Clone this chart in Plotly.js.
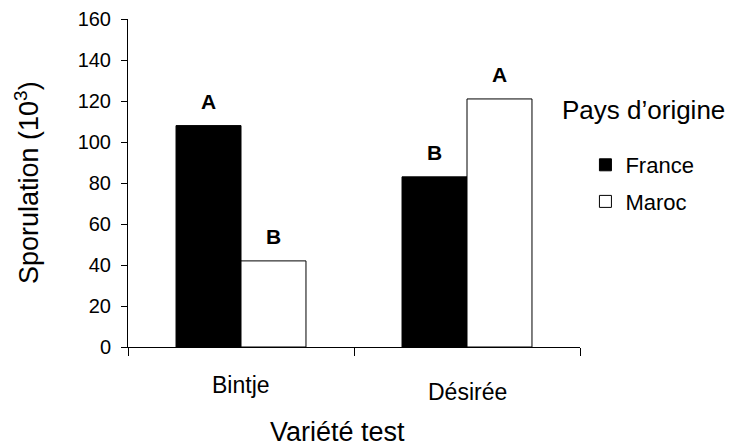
<!DOCTYPE html>
<html>
<head>
<meta charset="utf-8">
<script src="https://cdn.plot.ly/plotly-3.0.1.min.js"></script>
<style>
  html, body { margin: 0; padding: 0; background: #fff; }
  #chart { width: 744px; height: 447px; }
</style>
</head>
<body>
<div id="chart"></div>
<script>
// Sporulation by test variety and country of origin
const varieties = ["Bintje", "Désirée"];
const seriesNames = ["France", "Maroc"];
const franceValues = [108, 83];
const marocValues = [42, 121];
const franceLetters = ["A", "B"];
const marocLetters = ["B", "A"];
const yTicks = [0, 20, 40, 60, 80, 100, 120, 140, 160];

const FONT = "Liberation Sans, Arial, sans-serif";
const BARGAP = 0.425;
const half = (1 - BARGAP) / 4; // centre offset of each bar within its group

const traces = [
  {
    type: "bar", name: seriesNames[0], x: varieties, y: franceValues,
    marker: { color: "#000000", line: { color: "#000000", width: 1 } },
    legendgroup: "fr", hoverinfo: "skip"
  },
  {
    type: "bar", name: seriesNames[1], x: varieties, y: marocValues,
    marker: { color: "#ffffff", line: { color: "#000000", width: 1 } },
    legendgroup: "ma", hoverinfo: "skip"
  }
];

const annotations = [];
// significance letters above the bars
varieties.forEach((v, i) => {
  annotations.push({
    x: i - half, y: franceValues[i], xref: "x", yref: "y",
    text: "<b>" + franceLetters[i] + "</b>", showarrow: false,
    yanchor: "middle", yshift: 24,
    font: { family: FONT, size: 21, color: "#000" }
  });
  annotations.push({
    x: i + half, y: marocValues[i], xref: "x", yref: "y",
    text: "<b>" + marocLetters[i] + "</b>", showarrow: false,
    yanchor: "middle", yshift: 24,
    font: { family: FONT, size: 21, color: "#000" }
  });
});
// category labels (staggered as in the figure)
const labelY = [-0.116, -0.137];
varieties.forEach((v, i) => {
  annotations.push({
    x: i, y: labelY[i], xref: "x", yref: "paper",
    text: v, showarrow: false, yanchor: "middle",
    font: { family: FONT, size: 23, color: "#000" }
  });
});
// axis titles
annotations.push({
  x: (337 - 128) / 452, y: -0.26, xref: "paper", yref: "paper",
  text: "Variété test", showarrow: false, yanchor: "middle",
  font: { family: FONT, size: 27, color: "#000" }
});
annotations.push({
  x: (27 - 128) / 452, y: 0.5, xref: "paper", yref: "paper",
  text: "Sporulation (10<sup>3</sup>)", showarrow: false, textangle: -90,
  xanchor: "center", yanchor: "middle",
  font: { family: FONT, size: 27, color: "#000" }
});
// legend heading
annotations.push({
  x: (560 - 128) / 452, y: (347 - 110) / 328, xref: "paper", yref: "paper",
  text: "Pays d’origine", showarrow: false, xanchor: "left", yanchor: "middle",
  font: { family: FONT, size: 26, color: "#000" }
});

const layout = {
  width: 744, height: 447,
  margin: { l: 128, r: 164, t: 19, b: 100 },
  paper_bgcolor: "#ffffff", plot_bgcolor: "#ffffff",
  barmode: "group", bargap: BARGAP, bargroupgap: 0,
  font: { family: FONT, color: "#000" },
  showlegend: true,
  legend: {
    x: 1.012, y: (347 - 144) / 328, xanchor: "left", yanchor: "top",
    font: { family: FONT, size: 22, color: "#000" },
    traceorder: "grouped", tracegroupgap: 5,
    bgcolor: "rgba(0,0,0,0)", borderwidth: 0
  },
  xaxis: {
    type: "category", range: [-0.5, 1.5],
    showline: true, linecolor: "#000", linewidth: 1,
    ticks: "outside", tickson: "boundaries", ticklen: 8, tickcolor: "#000", tickwidth: 1,
    showticklabels: false, showgrid: false, zeroline: false, fixedrange: true
  },
  yaxis: {
    range: [0, 160], tickvals: yTicks, ticktext: yTicks.map(String),
    showline: true, linecolor: "#000", linewidth: 1,
    ticks: "outside", ticklen: 6, tickcolor: "#000", tickwidth: 1,
    ticklabelstandoff: 6,
    tickfont: { family: FONT, size: 20, color: "#000" },
    showgrid: false, zeroline: false, fixedrange: true
  },
  annotations: annotations
};

Plotly.newPlot("chart", traces, layout, { staticPlot: true, displayModeBar: false });
</script>
</body>
</html>
